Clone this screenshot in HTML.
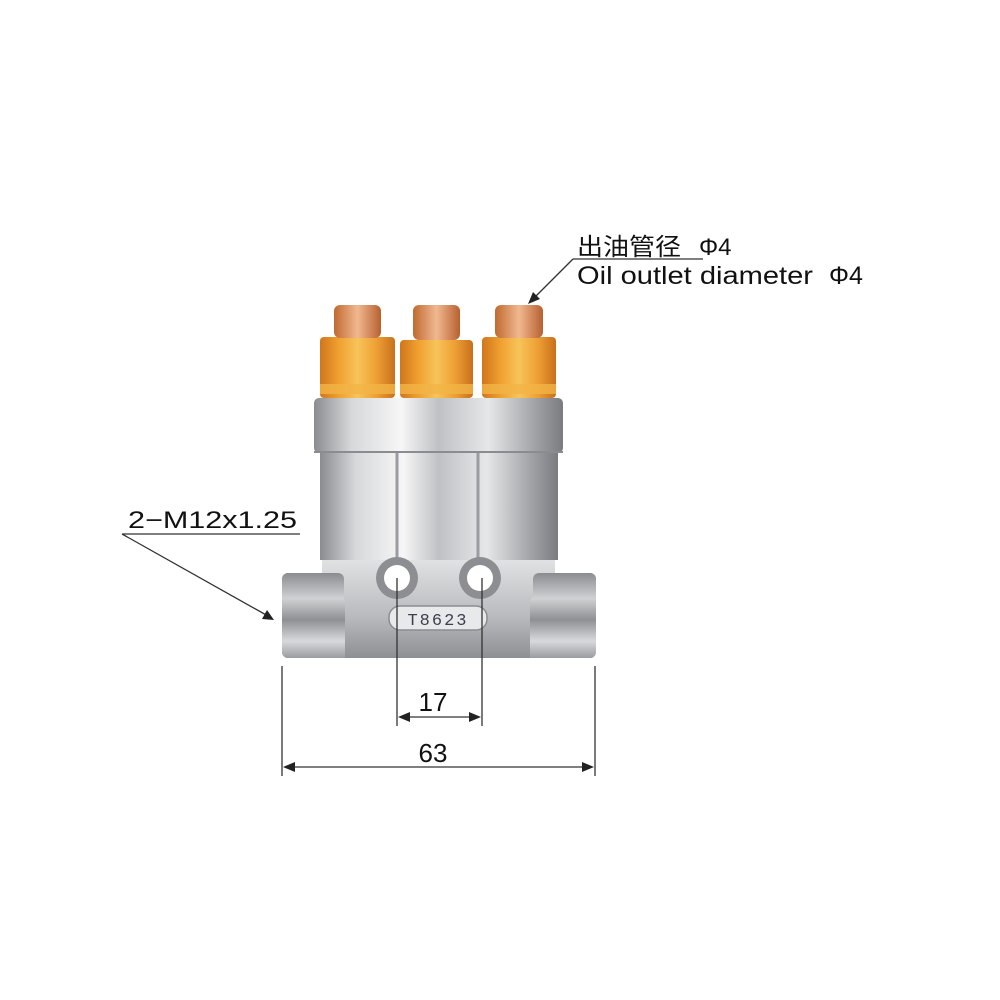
<!DOCTYPE html>
<html><head><meta charset="utf-8"><style>html,body{margin:0;padding:0;background:#fff}svg{display:block}</style></head>
<body>
<svg width="1000" height="1000" viewBox="0 0 1000 1000" xmlns="http://www.w3.org/2000/svg">
<defs>
<linearGradient id="cyl" x1="0" x2="1" y1="0" y2="0">
<stop offset="0" stop-color="#8a8c90"/><stop offset="0.15" stop-color="#d6d8da"/><stop offset="0.35" stop-color="#f6f6f6"/><stop offset="0.5" stop-color="#bfc1c4"/><stop offset="0.7" stop-color="#e6e7e8"/><stop offset="0.9" stop-color="#9c9ea2"/><stop offset="1" stop-color="#7a7c80"/>
</linearGradient>
<linearGradient id="org" x1="0" x2="1" y1="0" y2="0">
<stop offset="0" stop-color="#d0761c"/><stop offset="0.25" stop-color="#f0a030"/><stop offset="0.5" stop-color="#f7c45a"/><stop offset="0.75" stop-color="#eea034"/><stop offset="1" stop-color="#c8701c"/>
</linearGradient>
<linearGradient id="nut" x1="0" x2="1" y1="0" y2="0">
<stop offset="0" stop-color="#c06a30"/><stop offset="0.5" stop-color="#f0b890"/><stop offset="1" stop-color="#b86030"/>
</linearGradient>
<linearGradient id="pipe" x1="0" x2="0" y1="0" y2="1">
<stop offset="0" stop-color="#8a8c90"/><stop offset="0.3" stop-color="#cfd1d3"/><stop offset="0.55" stop-color="#8e9094"/><stop offset="0.8" stop-color="#d8d9db"/><stop offset="1" stop-color="#9a9ca0"/>
</linearGradient>
<linearGradient id="blk" x1="0" x2="0" y1="0" y2="1">
<stop offset="0" stop-color="#e4e5e6"/><stop offset="0.6" stop-color="#b8babd"/><stop offset="1" stop-color="#8d8f93"/>
</linearGradient>
</defs>
<rect x="282" y="573" width="314" height="85" rx="6" fill="url(#pipe)"/>
<path d="M322 555 L555 555 L555 573 L530 600 L530 658 L345 658 L345 600 L322 575 Z" fill="url(#blk)"/>
<rect x="282" y="573" width="62" height="85" rx="6" fill="url(#pipe)"/>
<rect x="533" y="573" width="63" height="85" rx="6" fill="url(#pipe)"/>
<rect x="320" y="450" width="238" height="110" fill="url(#cyl)"/>
<line x1="397" y1="450" x2="397" y2="560" stroke="#9a9ca0" stroke-width="3"/>
<line x1="478" y1="450" x2="478" y2="560" stroke="#9a9ca0" stroke-width="3"/>
<rect x="314" y="398" width="249" height="55" rx="5" fill="url(#cyl)"/>
<line x1="314" y1="452" x2="563" y2="452" stroke="#8a8c90" stroke-width="2"/>
<circle cx="397" cy="578" r="21" fill="#8c8e92"/><circle cx="397" cy="578" r="13" fill="#fff"/>
<circle cx="480" cy="578" r="21" fill="#8c8e92"/><circle cx="480" cy="578" r="13" fill="#fff"/>
<rect x="389" y="606" width="98" height="24" rx="11" fill="#e8e9ea" stroke="#8a8c90" stroke-width="1.5"/>
<text x="438" y="625" font-family="Liberation Mono, monospace" font-size="17" text-anchor="middle" fill="#3a4050" letter-spacing="2">T8623</text>
<rect x="320" y="337" width="75" height="61" rx="4" fill="url(#org)"/>
<rect x="400" y="340" width="73" height="58" rx="4" fill="url(#org)"/>
<rect x="482" y="337" width="74" height="61" rx="4" fill="url(#org)"/>
<rect x="320" y="384" width="75" height="10" fill="#f3b446" opacity="0.8"/>
<rect x="400" y="384" width="73" height="10" fill="#f3b446" opacity="0.8"/>
<rect x="482" y="384" width="74" height="10" fill="#f3b446" opacity="0.8"/>
<rect x="334" y="305" width="47" height="33" rx="6" fill="url(#nut)"/>
<rect x="413" y="305" width="47" height="35" rx="6" fill="url(#nut)"/>
<rect x="495" y="305" width="48" height="33" rx="6" fill="url(#nut)"/>
<g stroke="#333" stroke-width="1.3" fill="none">
<line x1="282" y1="666" x2="282" y2="776"/>
<line x1="595" y1="666" x2="595" y2="776"/>
<line x1="397" y1="578" x2="397" y2="726"/>
<line x1="482" y1="578" x2="482" y2="726"/>
<line x1="400" y1="717" x2="479" y2="717"/>
<line x1="285" y1="767" x2="592" y2="767"/>
<line x1="122" y1="534" x2="300" y2="534"/>
<line x1="122" y1="534" x2="268" y2="616"/>
<line x1="573" y1="259" x2="703" y2="259"/>
<line x1="573" y1="259" x2="532" y2="300"/>
</g>
<g fill="#222">
<path d="M398 717 L410 712 L410 722 Z"/><path d="M481 717 L469 712 L469 722 Z"/>
<path d="M283 767 L295 762 L295 772 Z"/><path d="M594 767 L582 762 L582 772 Z"/>
<path d="M274 620 L262 619 L267 610 Z"/>
<path d="M528 304 L533 292 L540 299 Z"/>
</g>
<g font-family="Liberation Sans, 'Noto Sans CJK SC', sans-serif" fill="#111">
<text x="433" y="711" font-size="26" text-anchor="middle">17</text>
<text x="433" y="762" font-size="26" text-anchor="middle">63</text>
<text x="128" y="528" font-size="24" textLength="169" lengthAdjust="spacingAndGlyphs">2−M12x1.25</text>
<text x="577" y="255" font-size="24" textLength="104" lengthAdjust="spacingAndGlyphs">出油管径</text>
<text x="699" y="255" font-size="24">Φ4</text>
<text x="577" y="284" font-size="25" textLength="236" lengthAdjust="spacingAndGlyphs">Oil outlet diameter</text>
<text x="829" y="284" font-size="25">Φ4</text>
</g>
</svg>
</body></html>
